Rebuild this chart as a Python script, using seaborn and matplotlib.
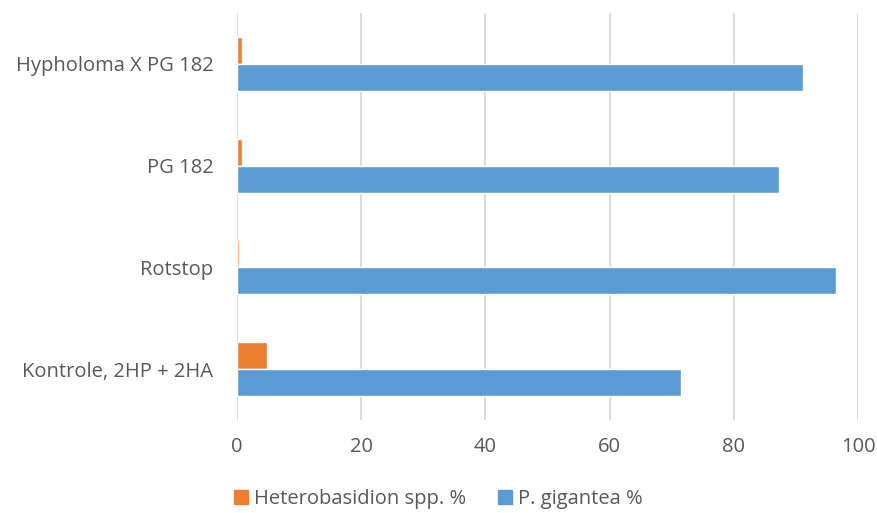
import pandas as pd
import matplotlib.pyplot as plt
import seaborn as sns

categories = ['Hypholoma X PG 182', 'PG 182', 'Rotstop', 'Kontrole, 2HP + 2HA']
heterobasidion = [0.8, 0.8, 0.3, 4.8]
gigantea = [91.1, 87.3, 96.5, 71.5]
series_names = ['Heterobasidion spp. %', 'P. gigantea %']
x_ticks = [0, 20, 40, 60, 80, 100]

df = pd.DataFrame({
    'Category': categories * 2,
    'Value': heterobasidion + gigantea,
    'Series': [series_names[0]] * len(categories) + [series_names[1]] * len(categories),
})

sns.set_style('white')
plt.rcParams['font.family'] = ['Open Sans', 'DejaVu Sans']

fig = plt.figure(figsize=(8.77, 5.13), dpi=100)
ax = fig.add_axes([237 / 877, 1 - 420 / 513, (858 - 237) / 877, (420 - 13) / 513])

colors = ['#ED7D31', '#5B9BD5']
sns.barplot(data=df, x='Value', y='Category', hue='Series', order=categories,
            hue_order=series_names, palette=colors, orient='h', width=0.53,
            saturation=1, ax=ax, legend=False)

ax.set_xlim(0, 100)
ax.set_xticks(x_ticks)
ax.grid(axis='x', color='#D9D9D9', linewidth=1.3)
ax.set_axisbelow(True)
for s in ax.spines.values():
    s.set_visible(False)
ax.tick_params(axis='both', length=0, labelsize=14.5, labelcolor='#595959')
ax.tick_params(axis='y', pad=17)
ax.tick_params(axis='x', pad=12)
ax.set_xlabel('')
ax.set_ylabel('')

handles = [plt.Rectangle((0, 0), 1, 1, color=c) for c in colors]
fig.legend(handles, series_names, loc='lower center', bbox_to_anchor=(0.5, -0.028),
           ncol=2, frameon=False, fontsize=14.5, labelcolor='#595959',
           handlelength=0.7, handleheight=0.7, handletextpad=0.3, columnspacing=1.6)

fig.savefig('out.png', dpi=100)
